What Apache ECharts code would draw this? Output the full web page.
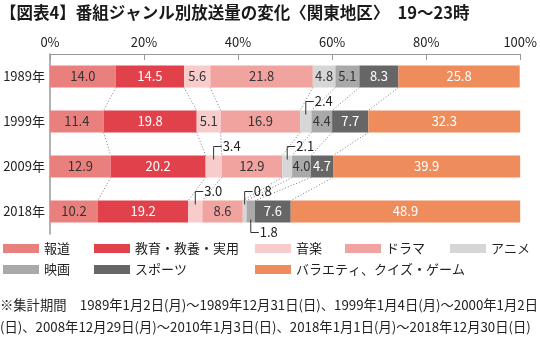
<!DOCTYPE html>
<html><head><meta charset="utf-8">
<script src="https://cdn.jsdelivr.net/npm/echarts@6/dist/echarts.min.js"></script>
<style>html,body{margin:0;padding:0;background:#fff}#c{width:540px;height:341px}</style>
</head><body><div id="c"></div>
<script>
const categories = ['1989年','1999年','2009年','2018年'];
const genres = ['報道','教育・教養・実用','音楽','ドラマ','アニメ','映画','スポーツ','バラエティ、クイズ・ゲーム'];
const houdou  = [14.0, 11.4, 12.9, 10.2];
const kyouiku = [14.5, 19.8, 20.2, 19.2];
const ongaku  = [5.6, 5.1, 3.4, 3.0];
const drama   = [21.8, 16.9, 12.9, 8.6];
const anime   = [4.8, 2.4, 2.1, 0.8];
const eiga    = [5.1, 4.4, 4.0, 1.8];
const sports  = [8.3, 7.7, 4.7, 7.6];
const variety = [25.8, 32.3, 39.9, 48.9];
const xTicks = [0, 20, 40, 60, 80, 100];
const titleText = '【図表4】番組ジャンル別放送量の変化〈関東地区〉　19〜23時';
const noteLines = ['※集計期間　1989年1月2日(月)〜1989年12月31日(日)、1999年1月4日(月)〜2000年1月2日',
                   '(日)、2008年12月29日(月)〜2010年1月3日(日)、2018年1月1日(月)〜2018年12月30日(日)'];

const seriesValues = [houdou, kyouiku, ongaku, drama, anime, eiga, sports, variety];
const colors = ['#E9807E','#E0414A','#F8CCCA','#F1A3A0','#D6D6D6','#A9A9A9','#666666','#EE8C5C'];
const labelColors = ['#333','#fff','#333','#333','#333','#333','#fff','#fff'];
const FONT = '"Noto Sans CJK JP", "Noto Sans", sans-serif';
const HALF = 11;
const SMALL = 3.5;

const cum = categories.map((c, yi) => {
  const arr = [0];
  seriesValues.forEach(v => arr.push(arr[arr.length - 1] + v[yi]));
  return arr;
});

const connectorData = [];
for (let yi = 0; yi < categories.length - 1; yi++) {
  for (let b = 1; b < seriesValues.length; b++) {
    connectorData.push([cum[yi][b], yi, cum[yi + 1][b], yi + 1]);
  }
}
const calloutData = [];
categories.forEach((c, yi) => {
  let prevSmall = false;
  seriesValues.forEach((v, si) => {
    const val = v[yi];
    if (val < SMALL) {
      calloutData.push([cum[yi][si] + val / 2, yi, val, prevSmall ? 1 : 0]);
      prevSmall = true;
    } else prevSmall = false;
  });
});

const chart = echarts.init(document.getElementById('c'), null, {renderer: 'canvas'});
const series = genres.map((g, si) => ({
  name: g, type: 'bar', stack: 'total', barWidth: 22,
  data: seriesValues[si],
  itemStyle: {color: colors[si]},
  label: {
    show: true, position: 'inside', color: labelColors[si], fontSize: 13, fontFamily: FONT,
    formatter: p => (p.value >= SMALL ? p.value.toFixed(1) : '')
  },
  emphasis: {disabled: true}
}));
series.push({
  type: 'custom', z: 5, silent: true, clip: false,
  encode: {x: [0, 2], y: [1, 3]},
  data: connectorData,
  renderItem: (params, api) => {
    const p1 = api.coord([api.value(0), api.value(1)]);
    const p2 = api.coord([api.value(2), api.value(3)]);
    return {type: 'line', shape: {x1: p1[0], y1: p1[1] + HALF, x2: p2[0], y2: p2[1] - HALF},
      style: {stroke: '#7a7a7a', lineWidth: 1, lineDash: [1, 2]}};
  }
});
series.push({
  type: 'custom', z: 6, silent: true, clip: false,
  encode: {x: 0, y: 1},
  data: calloutData,
  renderItem: (params, api) => {
    const c = api.coord([api.value(0), api.value(1)]);
    const x = c[0];
    const down = api.value(3) === 1;
    let pts, ty;
    if (!down) { const t = c[1] - HALF; ty = t - 9; pts = [[x, t + 4], [x, ty], [x + 8, ty]]; }
    else { const b = c[1] + HALF; ty = b + 10; pts = [[x, b - 3], [x, ty], [x + 8, ty]]; }
    return {type: 'group', children: [
      {type: 'polyline', shape: {points: pts}, style: {stroke: '#333', lineWidth: 1, fill: null}},
      {type: 'text', x: x + 9, y: ty, style: {text: api.value(2).toFixed(1), fill: '#222', fontSize: 13,
        fontFamily: FONT, verticalAlign: 'middle', align: 'left'}}
    ]};
  }
});

const legendPos = [[3,242],[94,242],[255,242],[345,242],[450,242],[3,263],[94,263],[255,263]];
const legends = genres.map((g, i) => ({
  data: [g], left: legendPos[i][0], top: legendPos[i][1], padding: 0,
  itemWidth: 36, itemHeight: 9, icon: 'rect', selectedMode: false,
  textStyle: {fontSize: 13, color: '#222', fontFamily: FONT}
}));

chart.setOption({
  animation: false,
  title: {text: titleText, left: 0, top: 4, padding: 0,
    textStyle: {fontSize: 16.5, fontWeight: 'bold', color: '#1a1a1a', fontFamily: FONT}},
  legend: legends,
  grid: {left: 50, right: 7, top: 54, bottom: 107, containLabel: false},
  xAxis: {type: 'value', position: 'top', min: xTicks[0], max: xTicks[xTicks.length - 1],
    interval: xTicks[1] - xTicks[0],
    axisLine: {show: true, lineStyle: {color: '#999', width: 1}},
    axisTick: {show: true, inside: true, length: 6, lineStyle: {color: '#999'}},
    splitLine: {show: false},
    axisLabel: {formatter: '{value}%', fontSize: 13, color: '#222', fontFamily: FONT, margin: 5}},
  yAxis: {type: 'category', data: categories, inverse: true,
    axisLine: {show: true, lineStyle: {color: '#999', width: 1.5}},
    axisTick: {show: false},
    axisLabel: {fontSize: 13, color: '#222', fontFamily: FONT, margin: 5}},
  graphic: noteLines.map((t, i) => ({type: 'text', left: 0, top: 298 + i * 22,
    style: {text: t, fontSize: 13.3, fill: '#222', fontFamily: FONT}})),
  series: series
});
</script></body></html>
